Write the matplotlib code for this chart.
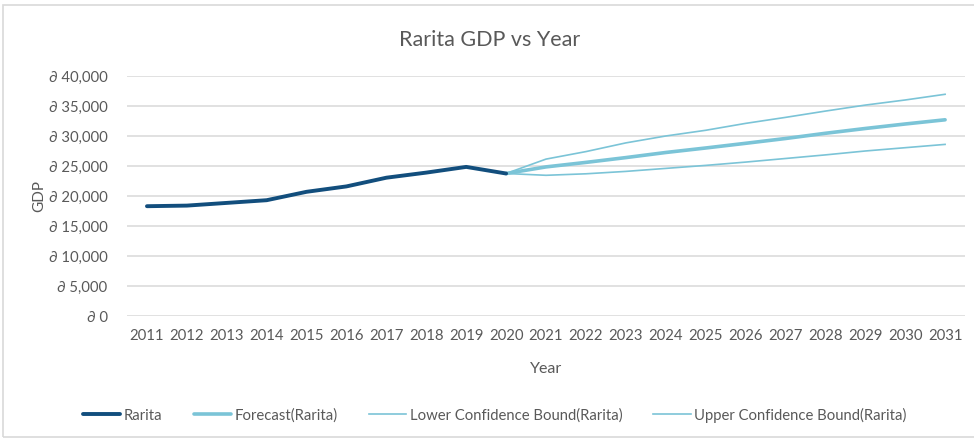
import matplotlib
matplotlib.use("Agg")
import matplotlib.pyplot as plt
from matplotlib.patches import Rectangle
from matplotlib.ticker import FuncFormatter


# Historical GDP and the exponential smoothing forecast with its bounds
years_hist = [2011, 2012, 2013, 2014, 2015, 2016, 2017, 2018, 2019, 2020]
gdp_hist = [18300, 18400, 18850, 19300, 20700, 21600, 23050, 23900, 24850, 23750]

years_fc = [2020, 2021, 2022, 2023, 2024, 2025, 2026, 2027, 2028, 2029, 2030, 2031]
gdp_forecast = [23750, 24850, 25600, 26400, 27250, 28000, 28780, 29580, 30450, 31250, 32000, 32700]
gdp_lower = [23750, 23450, 23700, 24100, 24600, 25100, 25650, 26250, 26850, 27500, 28050, 28600]
gdp_upper = [23750, 26150, 27400, 28850, 30000, 30950, 32100, 33100, 34150, 35150, 36000, 36950]

all_years = list(range(2011, 2032))
y_ticks = [0, 5000, 10000, 15000, 20000, 25000, 30000, 35000, 40000]

DARK = "#124E7D"
LIGHT = "#7BC4D7"
TEXT = "#595959"
GRID = "#D9D9D9"

plt.rcParams["font.family"] = ["Lato", "DejaVu Sans"]

fig = plt.figure(figsize=(9.74, 4.41), dpi=100)
ax = fig.add_axes([0.1304, 0.2834, 0.8604, 0.5443])

# chart border
fig.patches.append(Rectangle((3 / 974, 4 / 441), 1.1, 432 / 441, transform=fig.transFigure,
                             fill=False, edgecolor="#D9D9D9", linewidth=1.2))

ax.plot(years_hist, gdp_hist, color=DARK, linewidth=2.8, solid_capstyle="round",
        solid_joinstyle="round", label="Rarita", zorder=4)
ax.plot(years_fc, gdp_forecast, color=LIGHT, linewidth=2.6, solid_capstyle="round",
        label="Forecast(Rarita)", zorder=3)
ax.plot(years_fc, gdp_lower, color=LIGHT, linewidth=1.2,
        label="Lower Confidence Bound(Rarita)", zorder=2)
ax.plot(years_fc, gdp_upper, color=LIGHT, linewidth=1.2,
        label="Upper Confidence Bound(Rarita)", zorder=2)

ax.set_xlim(2010.5, 2031.5)
ax.set_ylim(0, 40000)
ax.set_xticks(all_years)
ax.set_yticks(y_ticks)
ax.yaxis.set_major_formatter(FuncFormatter(lambda v, _: "\u2202 {:,.0f}".format(v)))
ax.grid(axis="y", color=GRID, linewidth=1.1)
ax.set_axisbelow(True)
for s in ax.spines.values():
    s.set_visible(False)
ax.tick_params(axis="both", length=0, labelsize=10.7, colors=TEXT)
ax.tick_params(axis="x", pad=9)
ax.tick_params(axis="y", pad=14)

ax.set_xlabel("Year", fontsize=11.5, color=TEXT, labelpad=14)
ax.set_ylabel("GDP", fontsize=11, color=TEXT, labelpad=2)
fig.text(0.503, 0.909, "Rarita GDP vs Year", ha="center", va="center",
         fontsize=15.5, color=TEXT)

fig.legend(loc="center", bbox_to_anchor=(0.508, 0.059), ncol=4, frameon=False,
           fontsize=10.7, labelcolor=TEXT, handlelength=2.5, handletextpad=0.25,
           columnspacing=2.1)

fig.savefig("out.png", dpi=100)
